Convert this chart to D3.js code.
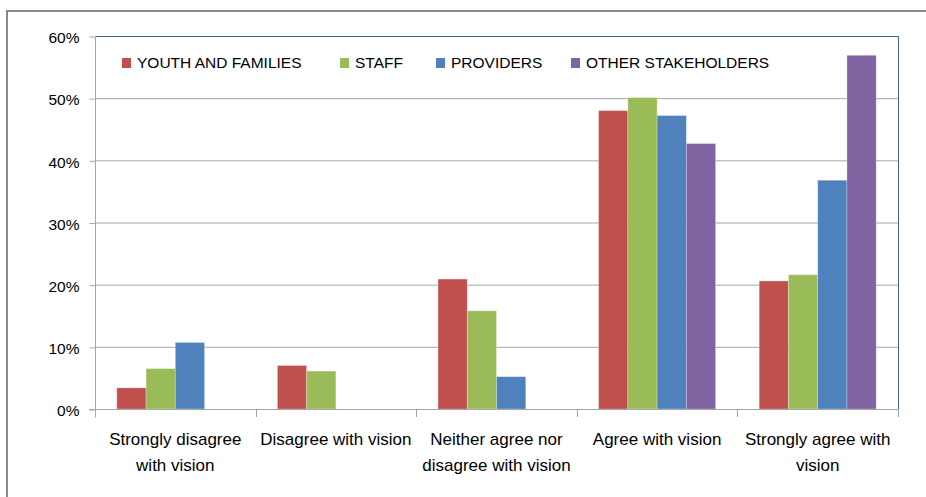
<!DOCTYPE html>
<html>
<head>
<meta charset="utf-8">
<script src="https://cdn.jsdelivr.net/npm/d3@7"></script>
<style>
  body { margin: 0; background: #fff; }
  svg { display: block; font-family: "Liberation Sans", Arial, sans-serif; }
</style>
</head>
<body>
<script>
const categories = [
  ['Strongly disagree', 'with vision'],
  ['Disagree with vision'],
  ['Neither agree nor', 'disagree with vision'],
  ['Agree with vision'],
  ['Strongly agree with', 'vision']
]
const series = ['YOUTH AND FAMILIES', 'STAFF', 'PROVIDERS', 'OTHER STAKEHOLDERS']
const colors = ['#C0504D', '#9BBB59', '#4F81BD', '#8064A2']

// one array per series, in category order (null = no bar)
const youth     = [0.034, 0.070, 0.209, 0.480, 0.206]
const staff     = [0.065, 0.061, 0.158, 0.501, 0.216]
const providers = [0.107, null,  0.052, 0.472, 0.368]
const others    = [null,  null,  null,  0.427, 0.569]
const values = [youth, staff, providers, others]

const yTicks = [0, 0.1, 0.2, 0.3, 0.4, 0.5, 0.6]

const W = 926, H = 497
const plot = { left: 95, right: 898, top: 36, bottom: 409 }

const svg = d3.select('body').append('svg')
  .attr('width', W)
  .attr('height', H)

// outer chart border
svg.append('path')
  .attr('d', 'M7 ' + H + 'V11H' + W)
  .attr('fill', 'none')
  .attr('stroke', '#8a8a8a')
  .attr('stroke-width', 2)

const x0 = d3.scaleBand()
  .domain(d3.range(categories.length))
  .range([plot.left, plot.right])

const x1 = d3.scaleBand()
  .domain(d3.range(series.length))
  .range([0, x0.bandwidth()])
  .paddingOuter(0.745)

const y = d3.scaleLinear()
  .domain([0, 0.6])
  .range([plot.bottom, plot.top])

// gridlines
svg.append('g')
  .selectAll('line')
  .data(yTicks.slice(1, -1))
  .enter().append('line')
    .attr('x1', plot.left)
    .attr('x2', plot.right)
    .attr('y1', (d) => y(d) + 0.5)
    .attr('y2', (d) => y(d) + 0.5)
    .attr('stroke', '#a6a6a6')

// bars
const group = svg.append('g')
  .selectAll('g')
  .data(values)
  .enter().append('g')
    .attr('fill', (d, i) => colors[i])

group.selectAll('rect')
  .data((d, i) => d.map((v, c) => ({ v: v, c: c, s: i })).filter((d) => d.v != null))
  .enter().append('rect')
    .attr('x', (d) => x0(d.c) + x1(d.s))
    .attr('width', x1.bandwidth())
    .attr('y', (d) => y(d.v))
    .attr('height', (d) => y(0) - y(d.v))
    .attr('stroke', 'rgba(255,255,255,0.35)')
    .attr('stroke-width', 0.8)

// plot area border (top & right)
svg.append('path')
  .attr('d', 'M' + plot.left + ' ' + (plot.top + 0.5) + 'H' + (plot.right + 0.5) + 'V' + plot.bottom)
  .attr('fill', 'none')
  .attr('stroke', '#3e6294')

// y axis
const yAxis = d3.axisLeft(y)
  .tickValues(yTicks)
  .tickFormat(d3.format('.0%'))
  .tickSize(6)
  .tickPadding(10)

const ya = svg.append('g')
  .attr('transform', 'translate(' + (plot.left + 0.5) + ',0.5)')
  .call(yAxis)
ya.select('.domain').attr('stroke', '#a6a6a6').attr('d', 'M0 ' + (plot.top - 0.5) + 'V' + (plot.bottom + 8))
ya.selectAll('.tick line').attr('stroke', '#a6a6a6')
ya.selectAll('text')
  .attr('fill', '#000')
  .style('font-size', '15.5px')
  .attr('dy', '0.4em')

// x axis line and category ticks
svg.append('line')
  .attr('x1', plot.left - 6)
  .attr('x2', plot.right + 1)
  .attr('y1', plot.bottom + 0.5)
  .attr('y2', plot.bottom + 0.5)
  .attr('stroke', '#a6a6a6')

svg.append('g')
  .selectAll('line')
  .data(d3.range(1, categories.length + 1))
  .enter().append('line')
    .attr('x1', (d) => Math.round(plot.left + d * x0.step()) + 0.5)
    .attr('x2', (d) => Math.round(plot.left + d * x0.step()) + 0.5)
    .attr('y1', plot.bottom)
    .attr('y2', plot.bottom + 8)
    .attr('stroke', '#a6a6a6')

// category labels
svg.append('g')
  .selectAll('text')
  .data(categories)
  .enter().append('text')
    .attr('text-anchor', 'middle')
    .attr('font-size', '17px')
    .attr('fill', '#000')
    .each(function(d, i) {
      d3.select(this).selectAll('tspan')
        .data(d)
        .enter().append('tspan')
          .attr('x', x0(i) + x0.bandwidth() / 2)
          .attr('y', (t, j) => 445 + j * 26)
          .text((t) => t)
    })

// legend
const legendX = [122, 340, 436, 571]
const legend = svg.append('g')
  .selectAll('g')
  .data(series)
  .enter().append('g')
    .attr('transform', (d, i) => 'translate(' + legendX[i] + ',57)')

legend.append('rect')
  .attr('width', 9)
  .attr('height', 10)
  .attr('y', 1)
  .attr('fill', (d, i) => colors[i])

legend.append('text')
  .attr('x', 15)
  .attr('y', 11)
  .attr('font-size', '15.5px')
  .attr('fill', '#000')
  .text((d) => d)
</script>
</body>
</html>
